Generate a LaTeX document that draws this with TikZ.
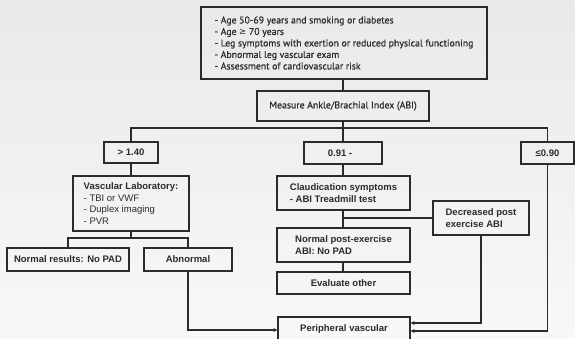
\documentclass[tikz,border=0pt]{standalone}
\usepackage{fontspec}
\setmainfont{Liberation Sans}
\newfontfamily\myr[FakeBold=0.6]{PT Sans}
\newfontfamily\symf{DejaVu Sans}
\usetikzlibrary{arrows.meta}
\definecolor{ink}{HTML}{2B2B2B}
\definecolor{bgtop}{HTML}{E8E9EB}
\definecolor{bgbot}{HTML}{F8F8F8}
\begin{document}
\begin{tikzpicture}[x=1pt,y=-1pt,
  box/.style={draw=ink,line width=1.3pt,rectangle,inner sep=0pt,text=ink,
    font=\fontsize{9.5}{11.5}\selectfont\bfseries,align=center},
  mbox/.style={box,font=\myr\fontsize{9.8}{11.5}\selectfont},
  conn/.style={draw=ink,line width=1.3pt},
  arr/.style={conn,-{Stealth[length=4pt,width=4pt]}}]
\useasboundingbox (0,0) rectangle (575,339);
\clip (0,0) rectangle (575,339);
\shade[top color=bgtop,bottom color=bgbot] (0,0) rectangle (575,339);

\node[mbox,align=left,minimum width=286pt,minimum height=72pt] (top) at (344,43)
 {- Age 50-69 years and smoking or diabetes\\
  - Age {\symf\fontsize{8.5}{11.5}\selectfont\char"2265}{} 70 years\\
  - Leg symptoms with exertion or reduced physical functioning\\
  - Abnormal leg vascular exam\\
  - Assessment of cardiovascular risk};
\node[mbox,minimum width=172pt,minimum height=30pt] (measure) at (343,106) {Measure Ankle/Brachial Index (ABI)};

\node[box,minimum width=54pt,minimum height=21pt] (g140) at (131,152.5) {> 1.40};
\node[box,minimum width=78pt,minimum height=22pt] (g091) at (343,153) {0.91 -\hspace*{6pt}};
\node[box,minimum width=53pt,minimum height=22pt] (le090) at (547.5,153) {\char"2264 0.90};

\node[box,align=left,minimum width=116pt,minimum height=55pt] (vlab) at (131,203.5)
 {Vascular Laboratory:\\ \mdseries - TBI or VWF\\ \mdseries - Duplex imaging\\ \mdseries - PVR};
\node[box,minimum width=122pt,minimum height=23pt] (normal) at (68,259.5) {Normal results: No PAD};
\node[box,minimum width=88pt,minimum height=23pt] (abnormal) at (188,259.5) {Abnormal};

\node[box,align=left,minimum width=133pt,minimum height=34pt] (claud) at (343.5,193)
 {Claudication symptoms\\- ABI Treadmill test};
\node[box,align=left,minimum width=133pt,minimum height=34pt] (npe) at (343.5,245)
 {Normal post-exercise\\ABI: No PAD};
\node[box,minimum width=133pt,minimum height=22pt] (evalo) at (343.5,283) {Evaluate other};
\node[box,align=left,minimum width=96pt,minimum height=34pt] (decr) at (481,218)
 {Decreased post\\exercise ABI};
\node[box,minimum width=132pt,minimum height=24pt] (periph) at (344,329) {Peripheral vascular};

\coordinate (bus) at (343,128);
\coordinate (vbus) at (131,238);

\draw[conn] (top.south -| measure.north) -- (measure.north);
\draw[conn] (measure.south) -- (g091.north);
\draw[conn] (g140.north) |- (bus) -| (le090.north);
\draw[conn] (g140.south) -- (vlab.north);
\draw[conn] (vlab.south) -- (vbus);
\draw[conn] (normal.north) |- (vbus) -| (abnormal.north);
\draw[conn] (g091.south) -- (claud.north -| g091.south);
\draw[conn] (claud.south -| g091.south) -- (npe.north -| g091.south);
\draw[conn] (decr.west) -- (decr.west -| g091.south);
\draw[conn] (npe.south -| g091.south) -- (evalo.north -| g091.south);
\draw[arr] (abnormal.south) |- ([yshift=-1pt]periph.west);
\draw[arr] (decr.south) |- ([yshift=6pt]periph.east);
\draw[arr] (le090.south) |- ([yshift=-2pt]periph.east);
\end{tikzpicture}
\end{document}
